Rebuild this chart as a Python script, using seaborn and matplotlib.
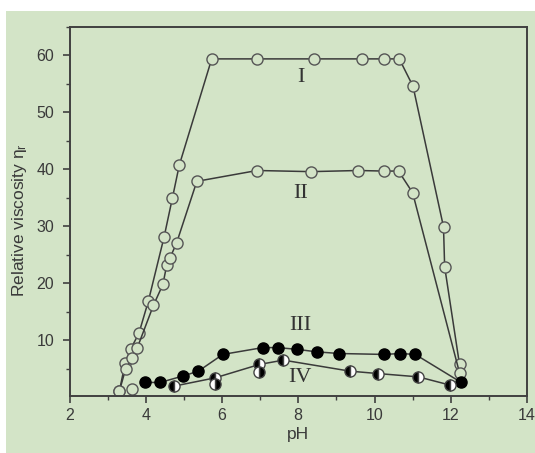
import matplotlib
matplotlib.use("Agg")
import matplotlib.pyplot as plt
from matplotlib.patches import Rectangle
from matplotlib.ticker import MultipleLocator, FixedLocator
import seaborn as sns
import pandas as pd

# ---------------- data ----------------
ph_I = [3.31, 3.46, 3.60, 3.82, 4.07, 4.48, 4.70, 4.88, 5.73, 6.92, 8.40, 9.67, 10.24, 10.65, 11.01, 11.81, 11.84, 12.23]
eta_I = [1.1, 6.0, 8.4, 11.2, 16.9, 28.1, 35.0, 40.75, 59.4, 59.4, 59.4, 59.4, 59.4, 59.4, 54.6, 29.9, 22.9, 5.74]

ph_II = [3.31, 3.47, 3.65, 3.78, 4.20, 4.45, 4.55, 4.64, 4.81, 5.34, 6.92, 8.33, 9.58, 10.24, 10.63, 11.00, 12.23]
eta_II = [1.1, 4.9, 6.9, 8.7, 16.1, 19.8, 23.2, 24.5, 27.1, 37.9, 39.8, 39.6, 39.8, 39.7, 39.7, 35.9, 4.27]

ph_stray = [3.63]
eta_stray = [1.4]

ph_III = [3.98, 4.38, 4.99, 5.38, 6.02, 7.07, 7.46, 7.96, 8.49, 9.08, 10.26, 10.67, 11.07, 12.27]
eta_III = [2.58, 2.58, 3.74, 4.56, 7.5, 8.7, 8.7, 8.4, 7.95, 7.66, 7.5, 7.66, 7.5, 2.6]

ph_IV = [4.74, 5.82, 6.98, 7.61, 9.36, 10.08, 11.15, 11.99]
eta_IV = [1.93, 3.39, 5.74, 6.5, 4.56, 4.15, 3.56, 2.1]

ph_IVb = [5.82, 6.98]
eta_IVb = [2.28, 4.44]

curve_labels = ["I", "II", "III", "IV"]
label_ph = [8.08, 8.06, 8.06, 8.05]
label_eta = [56.2, 35.8, 12.6, 3.45]

x_ticks = [2, 4, 6, 8, 10, 12, 14]
y_ticks = [10, 20, 30, 40, 50, 60]

# ---------------- style ----------------
BG = "#d3e4c7"
INK = "#3a3a3a"
sns.set_theme(style="ticks")
plt.rcParams["font.family"] = ["Liberation Sans", "DejaVu Sans"]
plt.rcParams["mathtext.fontset"] = "custom"
plt.rcParams["mathtext.rm"] = "Liberation Sans"
plt.rcParams["mathtext.it"] = "Liberation Sans:italic"

fig = plt.figure(figsize=(5.35, 4.53), dpi=100, facecolor="white")
fig.patches.append(Rectangle((6 / 535, 0), 1 - 6 / 535, 1 - 11 / 453,
                             transform=fig.transFigure, facecolor=BG,
                             edgecolor="none", zorder=-5))
ax = fig.add_axes([69.5 / 535, 1 - 396 / 453, (527 - 69.5) / 535, (396 - 27) / 453])
ax.set_zorder(2)
ax.set_facecolor(BG)

line_kw = dict(color=INK, linewidth=1.1, sort=False, estimator=None, ax=ax)
open_kw = dict(marker="o", markersize=8, markerfacecolor=BG,
               markeredgecolor="#555555", markeredgewidth=1.0)

def df(x, y):
    return pd.DataFrame({"pH": x, "eta": y})

sns.lineplot(data=df(ph_I, eta_I), x="pH", y="eta", **line_kw, **open_kw)
sns.lineplot(data=df(ph_II, eta_II), x="pH", y="eta", **line_kw, **open_kw)
sns.lineplot(data=df(ph_stray, eta_stray), x="pH", y="eta", **line_kw, **open_kw)
sns.lineplot(data=df(ph_III, eta_III), x="pH", y="eta", **line_kw,
             marker="o", markersize=8, markerfacecolor="black",
             markeredgecolor="black", markeredgewidth=1.0)
sns.lineplot(data=df(ph_IV, eta_IV), x="pH", y="eta", **line_kw,
             marker="o", markersize=8, fillstyle="left", markerfacecolor="black",
             markerfacecoloralt="white", markeredgecolor="#444444", markeredgewidth=1.0)
sns.lineplot(data=df(ph_IVb, eta_IVb), x="pH", y="eta", color=INK, linewidth=0,
             sort=False, estimator=None, ax=ax,
             marker="o", markersize=8, fillstyle="right", markerfacecolor="black",
             markerfacecoloralt="white", markeredgecolor="#444444", markeredgewidth=1.0)

for t, xx, yy in zip(curve_labels, label_ph, label_eta):
    ax.text(xx, yy, t, ha="center", va="center", fontsize=16,
            family=["Liberation Serif", "DejaVu Serif"], color="#333333")

ax.set_xlim(2, 14)
ax.set_ylim(0.2, 65)
ax.xaxis.set_major_locator(FixedLocator(x_ticks))
ax.xaxis.set_minor_locator(MultipleLocator(1))
ax.yaxis.set_major_locator(FixedLocator(y_ticks))
ax.yaxis.set_minor_locator(MultipleLocator(5))

for s in ax.spines.values():
    s.set_color("#404040")
    s.set_linewidth(1.4)
    s.set_visible(True)

ax.tick_params(which="major", direction="out", length=5, width=1.2,
               color="#404040", labelsize=11.5, labelcolor=INK)
ax.tick_params(which="minor", direction="out", length=3, width=1.0, color="#404040")
ax.tick_params(axis="y", which="major", pad=6)
ax.tick_params(axis="x", which="major", pad=4)

ax.set_xlabel("pH", fontsize=12.5, color=INK)
ax.set_ylabel(r"Relative viscosity η$_\mathrm{r}$", fontsize=12.5, color=INK)
ax.xaxis.set_label_coords(0.5, -0.083)
ax.yaxis.set_label_coords(-0.088, 0.478)

fig.savefig("out.png", dpi=100, facecolor=fig.get_facecolor())
